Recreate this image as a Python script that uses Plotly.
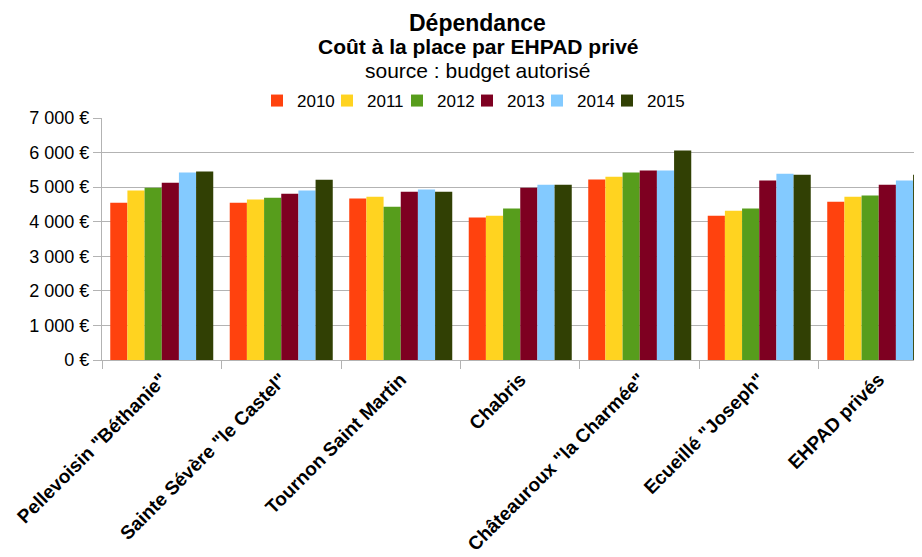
import plotly.graph_objects as go

categories = ['Pellevoisin "Béthanie"', 'Sainte Sévère "le Castel"', 'Tournon Saint Martin',
              'Chabris', 'Châteauroux "la Charmée"', 'Ecueillé "Joseph"', 'EHPAD privés']
years = ["2010", "2011", "2012", "2013", "2014", "2015"]
v2010 = [4550, 4550, 4670, 4120, 5220, 4170, 4580]
v2011 = [4900, 4640, 4725, 4175, 5300, 4320, 4725]
v2012 = [4985, 4695, 4435, 4380, 5420, 4380, 4755]
v2013 = [5130, 4810, 4870, 4985, 5480, 5190, 5070]
v2014 = [5420, 4900, 4930, 5070, 5480, 5390, 5190]
v2015 = [5450, 5215, 4870, 5070, 6060, 5360, 5360]
series = [v2010, v2011, v2012, v2013, v2014, v2015]
colors = ["#ff420e", "#ffd320", "#579d1c", "#7e0021", "#83caff", "#314004"]

FONT = "Liberation Sans, Arial, sans-serif"

fig = go.Figure()
for name, vals, col in zip(years, series, colors):
    fig.add_trace(go.Bar(name=name, x=categories, y=vals, marker=dict(color=col, line=dict(width=0))))
# empty legend spacer so the last legend label is not clipped
fig.add_trace(go.Scatter(x=[None], y=[None], name=" ", mode="lines",
                         line=dict(color="rgba(0,0,0,0)", width=0), hoverinfo="skip"))

def py(p):
    return (360 - p) / 242.0

fig.update_layout(
    width=914, height=549,
    margin=dict(l=94, r=0, t=110, b=197, pad=0, autoexpand=False),
    paper_bgcolor="white", plot_bgcolor="white",
    font=dict(family=FONT, color="#000000", size=18),
    barmode="group", bargap=0.138, bargroupgap=0,
    separators=", ",
    showlegend=True,
    legend=dict(orientation="h", x=(257 - 102) / 820.0, xanchor="left", y=py(101), yanchor="middle",
                font=dict(size=17), itemwidth=30, traceorder="normal",
                entrywidth=25, entrywidthmode="pixels", borderwidth=0),
    xaxis=dict(type="category", range=[-0.5, 6.362], tickangle=-45, automargin=False,
               tickfont=dict(size=19, family=FONT, color="#000000", weight="bold"),
               showline=True, linecolor="#b3b3b3", linewidth=1,
               ticks="outside", tickson="boundaries", ticklen=8, tickcolor="#b3b3b3",
               showgrid=False),
    yaxis=dict(range=[0, 7000], dtick=1000, tickformat=",.0f", ticksuffix=" €", automargin=False,
               tickfont=dict(size=18, family=FONT, color="#000000"),
               showline=True, linecolor="#b3b3b3", linewidth=1,
               ticks="outside", ticklen=8, tickcolor="#b3b3b3",
               showgrid=True, gridcolor="#b3b3b3", gridwidth=1, zeroline=False),
    annotations=[
        dict(text="<b>Dépendance</b>", xref="paper", yref="paper", x=(477 - 102) / 820.0, y=py(23),
             xanchor="center", yanchor="middle", showarrow=False, font=dict(size=23, family=FONT)),
        dict(text="<b>Coût à la place par EHPAD privé</b>", xref="paper", yref="paper", x=(478 - 102) / 820.0, y=py(46),
             xanchor="center", yanchor="middle", showarrow=False, font=dict(size=21, family=FONT)),
        dict(text="source : budget autorisé", xref="paper", yref="paper", x=(477 - 102) / 820.0, y=py(70),
             xanchor="center", yanchor="middle", showarrow=False, font=dict(size=21, family=FONT)),
    ],
)

fig.write_html("out.html")
